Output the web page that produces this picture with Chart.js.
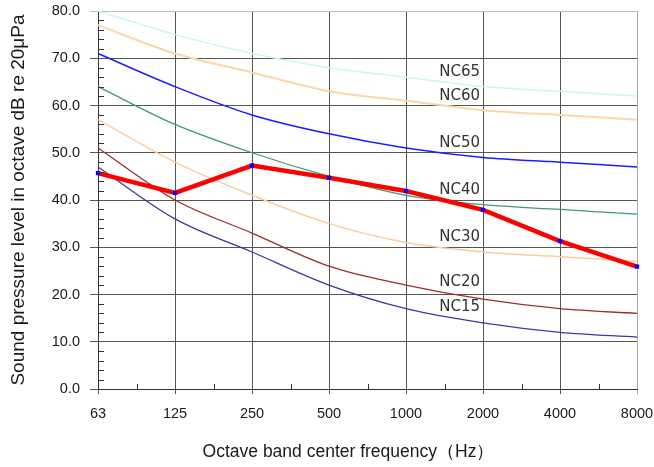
<!DOCTYPE html>
<html>
<head>
<meta charset="utf-8">
<script src="https://cdn.jsdelivr.net/npm/chart.js@4/dist/chart.umd.min.js"></script>
<style>
  html, body { margin: 0; padding: 0; background: #fff; }
  #wrap { width: 654px; height: 467px; position: relative; }
</style>
</head>
<body>
<div id="wrap"><canvas id="nc-chart"></canvas></div>
<script>
// Octave bands (Hz)
const frequencies = ['63', '125', '250', '500', '1000', '2000', '4000', '8000'];

// Measured spectrum
const measured = [45.7, 41.5, 47.3, 44.7, 41.9, 37.9, 31.3, 25.9];

// NC reference curves
const nc65 = [80, 75, 71, 68, 66, 64, 63, 62];
const nc60 = [77, 71, 67, 63, 61, 59, 58, 57];
const nc50 = [71, 64, 58, 54, 51, 49, 48, 47];
const nc40 = [64, 56, 50, 45, 41, 39, 38, 37];
const nc30 = [57, 48, 41, 35, 31, 29, 28, 27];
const nc20 = [51, 40, 33, 26, 22, 19, 17, 16];
const nc15 = [47, 36, 29, 22, 17, 14, 12, 11];

// Curve labels and the level each sits at
const curveNames = ['NC65', 'NC60', 'NC50', 'NC40', 'NC30', 'NC20', 'NC15'];
const curveLabelLevels = [67.1, 62.0, 52.1, 42.1, 32.2, 22.6, 17.4];

const yTicksMax = 80;
const yStep = 10;
const yMinorStep = 2;

const TEXT = '#1a1a1a';
const GRID = '#555';

function ncDataset(label, data, color, width) {
    return {
        label,
        data,
        borderColor: color,
        borderWidth: width,
        pointRadius: 0,
        cubicInterpolationMode: 'monotone',
        fill: false
    };
}

// Minor ticks, curve labels and the x title
const decorations = {
    id: 'decorations',
    afterDraw(chart) {
        const { ctx, chartArea, scales } = chart;
        const x = scales.x, y = scales.y;
        ctx.save();
        ctx.strokeStyle = '#333';
        ctx.lineWidth = 1;

        // y minor ticks (inside)
        for (let v = 0; v <= yTicksMax; v += yMinorStep) {
            if (v % yStep === 0) continue;
            const py = Math.round(y.getPixelForValue(v)) + 0.5;
            ctx.beginPath();
            ctx.moveTo(chartArea.left, py);
            ctx.lineTo(chartArea.left + 6, py);
            ctx.stroke();
        }
        // x minor ticks (between bands)
        for (let i = 0; i < frequencies.length - 1; i++) {
            const px = Math.round((x.getPixelForValue(i) + x.getPixelForValue(i + 1)) / 2) + 0.5;
            ctx.beginPath();
            ctx.moveTo(px, chartArea.bottom);
            ctx.lineTo(px, chartArea.bottom - 5);
            ctx.stroke();
        }

        // curve labels, right aligned just left of 2000 Hz
        ctx.fillStyle = '#333';
        ctx.font = '15px "DejaVu Sans"';
        ctx.textAlign = 'right';
        ctx.textBaseline = 'middle';
        const lx = x.getPixelForValue(5) - 3;
        curveNames.forEach((name, i) => {
            ctx.fillText(name, lx, y.getPixelForValue(curveLabelLevels[i]));
        });

        // x axis title
        ctx.fillStyle = TEXT;
        ctx.font = '17.5px "Liberation Sans", Arial, sans-serif';
        ctx.textAlign = 'center';
        ctx.textBaseline = 'middle';
        ctx.fillText('Octave band center frequency（Hz）', (chartArea.left + chartArea.right) / 2 - 19, 452);
        ctx.restore();
    }
};

const ctx = document.getElementById('nc-chart').getContext('2d');
new Chart(ctx, {
    type: 'line',
    data: {
        labels: frequencies,
        datasets: [
            {
                label: 'Measured',
                data: measured,
                borderColor: '#ff0000',
                borderWidth: 4.5,
                tension: 0,
                pointStyle: 'rect',
                pointRadius: 3,
                pointBackgroundColor: '#0000ff',
                pointBorderColor: '#0000ff',
                pointBorderWidth: 0,
                fill: false
            },
            ncDataset('NC65', nc65, '#c9f6f8', 1.5),
            ncDataset('NC60', nc60, '#fdd5aa', 2),
            ncDataset('NC50', nc50, '#1c1cff', 1.5),
            ncDataset('NC40', nc40, '#3f9a6e', 1.3),
            ncDataset('NC30', nc30, '#fdcc9d', 1.5),
            ncDataset('NC20', nc20, '#9b2d2d', 1.3),
            ncDataset('NC15', nc15, '#383a9e', 1.3)
        ]
    },
    options: {
        responsive: true,
        maintainAspectRatio: false,
        animation: false,
        layout: { padding: { top: 11, right: 17, left: 0, bottom: 0 } },
        plugins: {
            legend: { display: false },
            tooltip: { enabled: false }
        },
        scales: {
            x: {
                type: 'category',
                offset: false,
                afterFit: (scale) => {
                    scale.height = 78;
                    scale.paddingLeft = 0;
                    scale.paddingRight = 0;
                },
                grid: {
                    color: (c) => c.index === frequencies.length - 1 ? '#aaa' : GRID,
                    lineWidth: 1,
                    tickLength: 5,
                    drawTicks: true
                },
                border: { color: '#333', width: 1 },
                ticks: {
                    color: TEXT,
                    padding: 11,
                    maxRotation: 0,
                    autoSkip: false,
                    font: { family: '"Liberation Sans", Arial, sans-serif', size: 14.5 }
                }
            },
            y: {
                min: 0,
                max: yTicksMax,
                afterFit: (scale) => {
                    scale.width = 98;
                    scale.paddingTop = 0;
                    scale.paddingBottom = 0;
                },
                grid: {
                    color: (c) => c.tick && c.tick.value === yTicksMax ? '#bbb' : GRID,
                    lineWidth: 1,
                    tickLength: 8
                },
                border: { color: '#333', width: 1 },
                ticks: {
                    stepSize: yStep,
                    color: TEXT,
                    padding: 10,
                    callback: (v) => v.toFixed(1),
                    font: { family: '"Liberation Sans", Arial, sans-serif', size: 14.5 }
                },
                title: {
                    display: true,
                    text: 'Sound pressure level in octave dB re 20μPa',
                    color: TEXT,
                    padding: { top: 7, bottom: 0 },
                    font: { family: '"Liberation Sans", Arial, sans-serif', size: 19 }
                }
            }
        }
    },
    plugins: [decorations]
});
</script>
</body>
</html>
